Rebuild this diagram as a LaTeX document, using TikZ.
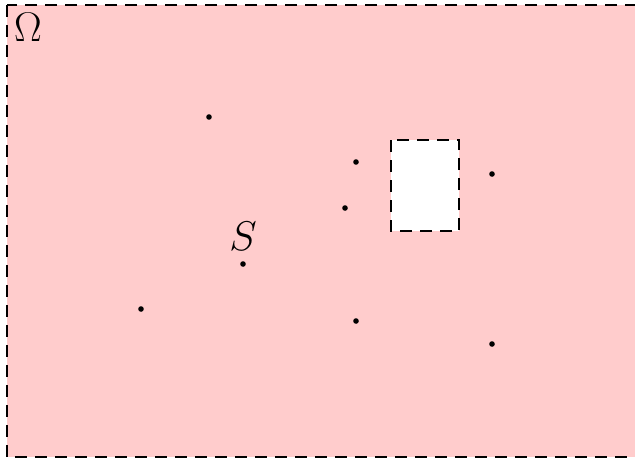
\documentclass[tikz,border=0pt]{standalone}
\begin{document}
\begin{tikzpicture}[x=0.5pt,y=-0.5pt,
  dashline/.style={line width=1pt,dash pattern=on 6pt off 4pt},
  pt/.style={circle,fill=black,inner sep=0pt,minimum size=2.8pt},
  lbl/.style={font=\huge,inner sep=0pt}]
\clip (0,0) rectangle (635,461);
\useasboundingbox (0,0) rectangle (635,461);
\draw[dashline,fill=red!20] (7,5) rectangle (660,457);
\draw[dashline,fill=white] (391,140) rectangle (459,231);
\node[lbl] (omega) at (28,27) {$\Omega$};
\node[pt] (p1) at (209,117) {};
\node[pt] (p2) at (356,162) {};
\node[pt] (p3) at (345,208) {};
\node[pt] (p4) at (492,174) {};
\node[pt] (s) at (243,264) {};
\node[pt] (p6) at (141,309) {};
\node[pt] (p7) at (356,321) {};
\node[pt] (p8) at (492,344) {};
\node[lbl] (slabel) at (243,236) {$S$};
\end{tikzpicture}
\end{document}
